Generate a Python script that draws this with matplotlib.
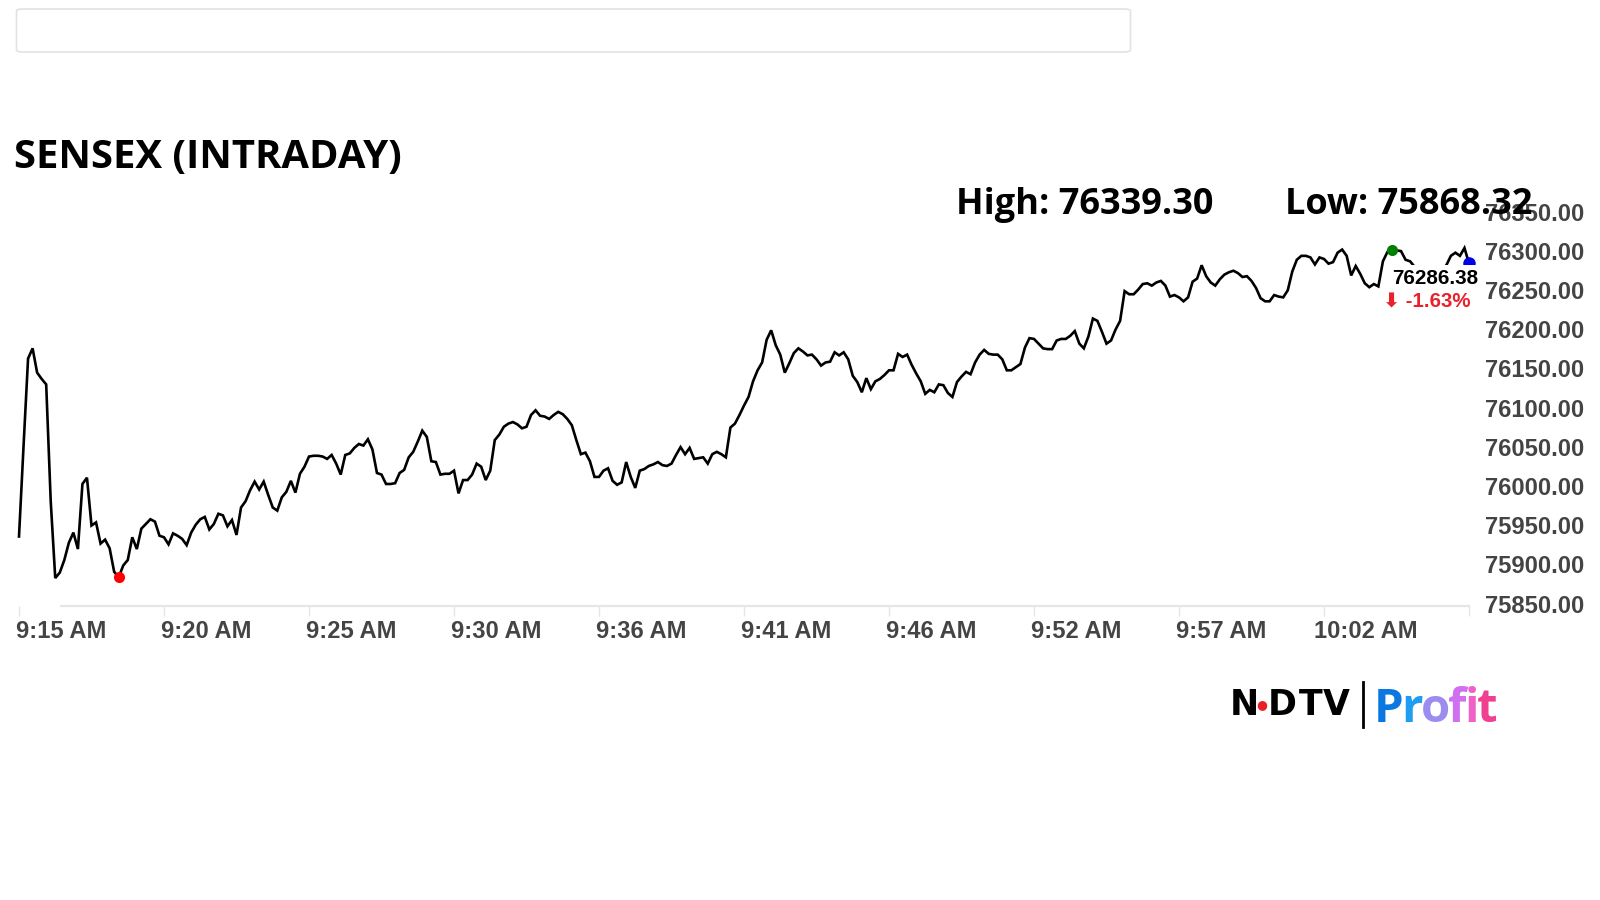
import matplotlib
matplotlib.use("Agg")
import matplotlib.pyplot as plt
from matplotlib.patches import FancyBboxPatch
from matplotlib.transforms import ScaledTranslation

values = [
    75938,76053,76165,76178,76147,76139,76132,75983,75885,75892,
    75908,75930,75943,75922,76005,76013,75952,75956,75929,75934,
    75923,75893,75886,75901,75908,75937,75922,75948,75954,75960,
    75957,75939,75937,75928,75942,75939,75935,75927,75943,75953,
    75960,75963,75947,75954,75967,75965,75951,75959,75940,75975,
    75983,75997,76008,75998,76008,75991,75975,75971,75988,75995,
    76009,75994,76018,76027,76040,76041,76041,76040,76037,76042,
    76031,76017,76042,76044,76051,76056,76054,76062,76049,76019,
    76017,76005,76005,76006,76019,76023,76039,76046,76059,76073,
    76065,76034,76033,76017,76018,76018,76022,75993,76010,76010,
    76017,76031,76027,76010,76022,76061,76068,76078,76082,76084,
    76081,76076,76078,76093,76099,76092,76091,76088,76093,76097,
    76094,76088,76080,76061,76043,76045,76034,76014,76014,76022,
    76025,76009,76004,76007,76033,76014,76000,76022,76024,76028,
    76030,76033,76029,76028,76031,76042,76052,76043,76051,76037,
    76038,76039,76031,76043,76046,76043,76039,76077,76082,76093,
    76105,76116,76136,76150,76160,76189,76201,76182,76170,76147,
    76159,76172,76178,76174,76169,76170,76164,76156,76160,76161,
    76173,76169,76173,76164,76143,76135,76122,76140,76126,76136,
    76139,76144,76150,76150,76171,76167,76170,76157,76146,76136,
    76120,76125,76122,76132,76131,76121,76116,76135,76142,76148,
    76145,76160,76170,76176,76171,76170,76170,76164,76150,76150,
    76154,76158,76179,76191,76190,76184,76178,76177,76177,76188,
    76190,76190,76194,76200,76184,76178,76193,76216,76213,76199,
    76184,76188,76202,76213,76251,76247,76247,76253,76260,76261,
    76258,76262,76264,76258,76244,76246,76243,76238,76243,76263,
    76267,76284,76270,76262,76258,76266,76272,76275,76277,76274,
    76269,76270,76264,76255,76242,76238,76238,76246,76244,76243,
    76252,76276,76291,76296,76296,76294,76285,76294,76292,76286,
    76288,76300,76304,76296,76271,76283,76273,76261,76256,76260,
    76257,76289,76301,76304,76303,76302,76291,76289,76282,76280,
    76281,76279,76282,76280,76278,76284,76296,76300,76296,76306,
    76286.38,
]
time_labels = ["9:15 AM","9:20 AM","9:25 AM","9:30 AM","9:36 AM","9:41 AM",
               "9:46 AM","9:52 AM","9:57 AM","10:02 AM",""]
time_positions = [0,32,64,96,128,160,192,224,256,288,320]
y_ticks = [75850,75900,75950,76000,76050,76100,76150,76200,76250,76300,76350]
low_idx, high_idx, last_idx = 22, 303, 320
title = "SENSEX (INTRADAY)"
high_text = "High: 76339.30"
low_text = "Low: 75868.32"
last_text = "76286.38"
change_text = "\u2b07 -1.63%"

W, H = 1600, 900
fig = plt.figure(figsize=(16, 9), dpi=100, facecolor="white")
ax = fig.add_axes([19/W, 1-605.5/H, 1450/W, 392/H])
ax.set_xlim(0, 320)
ax.set_ylim(75850, 76350)
ax.patch.set_alpha(0)
for s in ax.spines.values():
    s.set_visible(False)

SANS = ["Liberation Sans", "DejaVu Sans"]
GREY = "#444444"

xs = list(range(len(values)))
ax.plot(xs, values, color="black", lw=1.9, solid_joinstyle="miter", zorder=3, clip_on=False)
ax.plot([9.3, 320], [75850, 75850], color="#e6e6e6", lw=1.6, zorder=1, clip_on=False)
ax.plot(low_idx, values[low_idx], "o", color="#ff0000", ms=8, mew=0, zorder=4, clip_on=False)
ax.plot(high_idx, values[high_idx], "o", color="#008000", ms=8, mew=0, zorder=4, clip_on=False)
ax.plot(last_idx, values[last_idx], "o", color="#0000e6", ms=9, mew=0, zorder=4, clip_on=False)

ax.set_xticks(time_positions)
ax.set_xticklabels(time_labels, fontsize=17.1, fontweight="bold", color=GREY, family=SANS)
ax.tick_params(axis="x", length=7, width=1, color="#e6e6e6", pad=3.5)
shift = ScaledTranslation(42/100, 0, fig.dpi_scale_trans)
for lab in ax.get_xticklabels():
    lab.set_ha("center")
    lab.set_transform(lab.get_transform() + shift)

ax.yaxis.tick_right()
ax.set_yticks(y_ticks)
ax.set_yticklabels([f"{v:.2f}" for v in y_ticks], fontsize=17.1, fontweight="bold",
                   color=GREY, family=SANS)
ax.tick_params(axis="y", length=0, pad=11.5)
shift_y = ScaledTranslation(0, 2/100, fig.dpi_scale_trans)
for lab in ax.get_yticklabels():
    lab.set_transform(lab.get_transform() + shift_y)

def px(x, y):
    return x/W, 1-y/H

fig.patches.append(FancyBboxPatch(px(16.5, 52), 1114/W, 43/H,
    boxstyle="round,pad=0,rounding_size=0.004", mutation_aspect=H/W*1.0,
    transform=fig.transFigure, fc="white", ec="#e2e2e2", lw=1.2))

fig.text(*px(14, 157), title, fontsize=28.8, fontweight="bold", family="Open Sans",
         ha="left", va="center", color="black", zorder=6)
fig.text(*px(956, 205), high_text, fontsize=26, fontweight="bold", family="Open Sans",
         ha="left", va="center", color="black", zorder=6)
fig.text(*px(1285, 205), low_text, fontsize=26, fontweight="bold", family="Open Sans",
         ha="left", va="center", color="black", zorder=6)

fig.text(*px(1435, 278), last_text, fontsize=14.9, fontweight="bold", family=SANS,
         ha="center", va="center", color="black", zorder=5,
         bbox=dict(fc="white", ec="none", pad=2.8))
fig.text(*px(1427, 302.5), change_text, fontsize=14.7, fontweight="bold", family=SANS,
         ha="center", va="center", color="#e8212b", zorder=5)

# logo
for ch, cx in zip("NDTV", [1244, 1282, 1311, 1336]):
    fig.text(*px(cx, 705), ch, fontsize=25, fontweight="bold", family="DejaVu Sans",
             ha="center", va="center", color="black", zorder=6)
fig.text(*px(1262, 705), "\u25cf", fontsize=9, family="DejaVu Sans", ha="center", va="center",
         color="#e8202a", zorder=7)
fig.add_artist(plt.Line2D([1363/W, 1363/W], [1-682/H, 1-727/H], color="black", lw=2))
r = fig.canvas.get_renderer()
cursor = 1374
for ch, col in zip("Profit", ["#0a78e0", "#1e9ef0", "#9b8cf0", "#d070f0", "#f060c8", "#f04090"]):
    t = fig.text(cursor/W, 1-722/H, ch, fontsize=34, fontweight="bold", family="Open Sans",
                 ha="left", va="baseline", color=col, zorder=6)
    cursor += t.get_window_extent(r).width - 2

fig.savefig("out.png", dpi=100, facecolor="white")
